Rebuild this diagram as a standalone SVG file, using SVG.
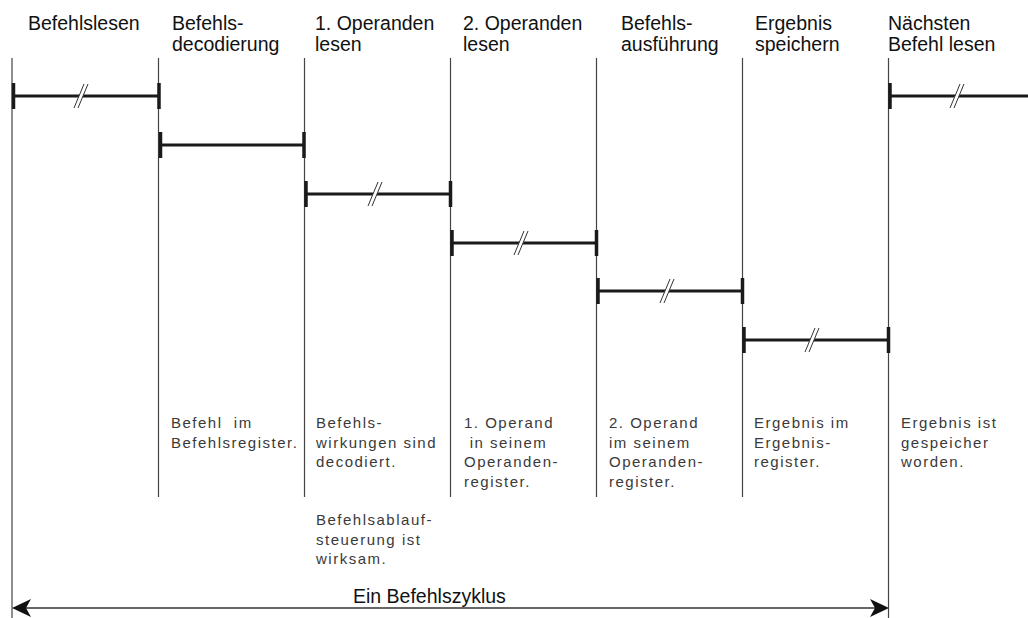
<svg xmlns="http://www.w3.org/2000/svg" width="1028" height="618" viewBox="0 0 1028 618">
  <style>
    .hd { font-family: "Liberation Sans", Arial, sans-serif; font-size: 19.5px; fill: #111; }
    .nt { font-family: "Liberation Sans", Arial, sans-serif; font-size: 15px; letter-spacing: 1.5px; fill: #3a3a3a; white-space: pre; }
    .vl { stroke: #444; stroke-width: 1.2; fill: none; }
    .bar { stroke: #1a1a1a; stroke-width: 3; fill: none; }
    .tick { stroke: #1a1a1a; stroke-width: 3.5; fill: none; }
    .brk-fill { fill: #fff; stroke: none; }
    .brk-line { stroke: #333; stroke-width: 1; fill: none; }
    .axis { stroke: #333; stroke-width: 1.3; fill: none; }
    .head { fill: #111; stroke: none; }
  </style>
  <defs>
    <!-- interruption mark "//" centred on the bar -->
    <g id="brk">
      <polygon class="brk-fill" points="3,-12 7,-12 -3,12 -7,12"/>
      <line class="brk-line" x1="3" y1="-12" x2="-7" y2="12"/>
      <line class="brk-line" x1="7" y1="-12" x2="-3" y2="12"/>
    </g>
  </defs>
  <rect width="1028" height="618" fill="#fff"/>

  <!-- phase boundaries -->
  <g id="grid">
    <line class="vl" x1="12" y1="58" x2="12" y2="618"/>
    <line class="vl" x1="158.5" y1="58" x2="158.5" y2="497"/>
    <line class="vl" x1="304.5" y1="58" x2="304.5" y2="497"/>
    <line class="vl" x1="450.5" y1="58" x2="450.5" y2="497"/>
    <line class="vl" x1="596.5" y1="58" x2="596.5" y2="497"/>
    <line class="vl" x1="742.5" y1="58" x2="742.5" y2="497"/>
    <line class="vl" x1="888.5" y1="58" x2="888.5" y2="618"/>
  </g>

  <!-- phase headings -->
  <g id="headings">
    <g id="h-befehlslesen"><text class="hd" x="28" y="30">Befehlslesen</text></g>
    <g id="h-decodierung"><text class="hd" x="172" y="30">Befehls-</text><text class="hd" x="172" y="51">decodierung</text></g>
    <g id="h-op1"><text class="hd" x="315" y="30">1. Operanden</text><text class="hd" x="315" y="51">lesen</text></g>
    <g id="h-op2"><text class="hd" x="463" y="30">2. Operanden</text><text class="hd" x="463" y="51">lesen</text></g>
    <g id="h-ausfuehrung"><text class="hd" x="621" y="30">Befehls-</text><text class="hd" x="621" y="51">ausführung</text></g>
    <g id="h-speichern"><text class="hd" x="755" y="30">Ergebnis</text><text class="hd" x="755" y="51">speichern</text></g>
    <g id="h-naechster"><text class="hd" x="888" y="30">Nächsten</text><text class="hd" x="888" y="51">Befehl lesen</text></g>
  </g>

  <!-- phase bars -->
  <g id="bars">
    <g id="bar1">
      <line class="bar" x1="12" y1="96" x2="159" y2="96"/>
      <line class="tick" x1="13.5" y1="83" x2="13.5" y2="109"/>
      <line class="tick" x1="159" y1="83" x2="159" y2="109"/>
      <use href="#brk" x="81" y="96"/>
    </g>
    <g id="bar2">
      <line class="bar" x1="159" y1="145" x2="305" y2="145"/>
      <line class="tick" x1="160.5" y1="132" x2="160.5" y2="158"/>
      <line class="tick" x1="304" y1="132" x2="304" y2="158"/>
    </g>
    <g id="bar3">
      <line class="bar" x1="305" y1="194" x2="451" y2="194"/>
      <line class="tick" x1="306" y1="181" x2="306" y2="207"/>
      <line class="tick" x1="450.5" y1="181" x2="450.5" y2="207"/>
      <use href="#brk" x="375" y="194"/>
    </g>
    <g id="bar4">
      <line class="bar" x1="451" y1="243" x2="597" y2="243"/>
      <line class="tick" x1="452" y1="230" x2="452" y2="256"/>
      <line class="tick" x1="596.5" y1="230" x2="596.5" y2="256"/>
      <use href="#brk" x="521" y="243"/>
    </g>
    <g id="bar5">
      <line class="bar" x1="597" y1="291" x2="743" y2="291"/>
      <line class="tick" x1="598" y1="278" x2="598" y2="304"/>
      <line class="tick" x1="742.5" y1="278" x2="742.5" y2="304"/>
      <use href="#brk" x="667" y="291"/>
    </g>
    <g id="bar6">
      <line class="bar" x1="743" y1="340" x2="889" y2="340"/>
      <line class="tick" x1="744" y1="327" x2="744" y2="353"/>
      <line class="tick" x1="888.5" y1="327" x2="888.5" y2="353"/>
      <use href="#brk" x="812" y="340"/>
    </g>
    <g id="bar7">
      <line class="bar" x1="889" y1="96" x2="1028" y2="96"/>
      <line class="tick" x1="890" y1="83" x2="890" y2="109"/>
      <use href="#brk" x="957" y="96"/>
    </g>
  </g>

  <!-- state notes -->
  <g id="notes">
    <g id="n-decodierung"><text class="nt" x="171" y="428">Befehl  im</text><text class="nt" x="171" y="447.5">Befehlsregister.</text></g>
    <g id="n-op1">
      <text class="nt" x="316" y="428">Befehls-</text>
      <text class="nt" x="316" y="447.5">wirkungen sind</text>
      <text class="nt" x="316" y="467">decodiert.</text>
      <text class="nt" x="316" y="525">Befehlsablauf-</text>
      <text class="nt" x="316" y="544.5">steuerung ist</text>
      <text class="nt" x="316" y="564">wirksam.</text>
    </g>
    <g id="n-op2">
      <text class="nt" x="464" y="428">1. Operand</text>
      <text class="nt" x="464" y="447.5"> in seinem</text>
      <text class="nt" x="464" y="467">Operanden-</text>
      <text class="nt" x="464" y="486.5">register.</text>
    </g>
    <g id="n-ausfuehrung">
      <text class="nt" x="609" y="428">2. Operand</text>
      <text class="nt" x="609" y="447.5">im seinem</text>
      <text class="nt" x="609" y="467">Operanden-</text>
      <text class="nt" x="609" y="486.5">register.</text>
    </g>
    <g id="n-speichern">
      <text class="nt" x="754" y="428">Ergebnis im</text>
      <text class="nt" x="754" y="447.5">Ergebnis-</text>
      <text class="nt" x="754" y="467">register.</text>
    </g>
    <g id="n-naechster">
      <text class="nt" x="901" y="428">Ergebnis ist</text>
      <text class="nt" x="901" y="447.5">gespeicher</text>
      <text class="nt" x="901" y="467">worden.</text>
    </g>
  </g>

  <!-- cycle span -->
  <g id="connectors">
    <line class="axis" x1="20" y1="608" x2="881" y2="608"/>
    <polygon class="head" points="12,608 31,599 26,608 31,617"/>
    <polygon class="head" points="889,608 870,599 875,608 870,617"/>
  </g>
  <g id="cycle-label"><text class="hd" x="353" y="603">Ein Befehlszyklus</text></g>
</svg>
